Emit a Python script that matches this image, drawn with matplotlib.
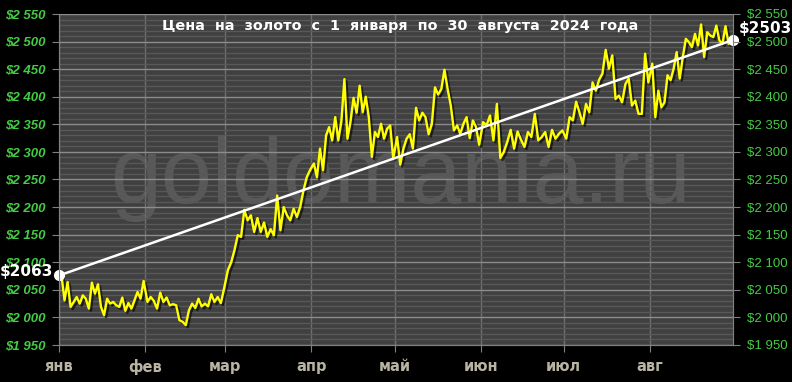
import calendar
import numpy as np
import matplotlib
matplotlib.use('Agg')
import matplotlib.pyplot as plt
import matplotlib.patheffects as pe
from matplotlib.ticker import MultipleLocator, FuncFormatter, FixedLocator

# цены золота по месяцам
months = ['янв', 'фев', 'мар', 'апр', 'май', 'июн', 'июл', 'авг']
jan = [2076, 2031, 2064, 2019, 2028, 2037, 2025, 2040, 2034, 2016, 2063, 2043, 2060, 2019,
       2004, 2034, 2025, 2028, 2022, 2019, 2036, 2012, 2026, 2016, 2031, 2046, 2034, 2066]
feb = [2028, 2037, 2030, 2016, 2045, 2028, 2036, 2022, 2024, 2022, 1995, 1992, 1986, 2013,
       2025, 2017, 2034, 2020, 2025, 2020, 2042, 2028, 2037, 2026, 2052]
mar = [2086, 2100, 2122, 2149, 2146, 2195, 2176, 2185, 2155, 2180, 2155, 2172, 2146, 2160,
       2149, 2221, 2158, 2200, 2185, 2176, 2197, 2182, 2200, 2230, 2254, 2267]
apr = [2279, 2254, 2306, 2267, 2330, 2345, 2321, 2363, 2321, 2355, 2432, 2324, 2355, 2398,
       2371, 2420, 2372, 2400, 2363, 2291, 2336, 2327, 2351, 2324, 2342, 2348, 2288]
may = [2327, 2277, 2306, 2324, 2332, 2306, 2380, 2357, 2371, 2363, 2332, 2351, 2417, 2404,
       2414, 2449, 2414, 2384, 2339, 2348, 2333, 2351, 2363, 2325, 2357, 2345, 2313]
jun = [2354, 2348, 2366, 2321, 2387, 2289, 2300, 2318, 2340, 2306, 2337, 2322, 2309, 2336,
       2327, 2369, 2321, 2327, 2336, 2309, 2340, 2324, 2333, 2339]
jul = [2324, 2363, 2357, 2391, 2372, 2351, 2387, 2372, 2426, 2411, 2431, 2442, 2485, 2451,
       2475, 2396, 2402, 2390, 2423, 2433, 2384, 2393, 2369, 2369, 2478, 2426]
aug = [2460, 2363, 2411, 2381, 2390, 2439, 2430, 2451, 2481, 2433, 2472, 2505, 2499, 2490,
       2514, 2493, 2531, 2472, 2517, 2511, 2508, 2529, 2502, 2496, 2528, 2496, 2501]
prices = [jan, feb, mar, apr, may, jun, jul, aug]

first_price, last_price = 2063, 2503
trend = [2076, 2503]

# ось X в днях года
month_len = [calendar.monthrange(2024, m)[1] for m in range(1, 9)]
month_start = np.concatenate([[0], np.cumsum(month_len[:-1])])
month_len[-1] = 30  # до 30 августа
x_end = month_start[-1] + 30

xs = np.concatenate([np.linspace(s + 0.9, s + L - 0.5, len(v))
                     for s, L, v in zip(month_start, month_len, prices)])
ys = np.concatenate(prices)

fig = plt.figure(figsize=(7.92, 3.82), dpi=100, facecolor='black')
ax = fig.add_axes([59 / 792, 37 / 382, 674 / 792, 331 / 382])
ax.set_facecolor('#404040')
ax.set_xlim(0, x_end)
ax.set_ylim(1950, 2550)

green = '#44cc44'
fmt = FuncFormatter(lambda v, _: '$' + f'{int(v):,}'.replace(',', ' '))

ax.yaxis.set_major_locator(MultipleLocator(50))
ax.yaxis.set_minor_locator(MultipleLocator(10))
ax.yaxis.set_major_formatter(fmt)
ax.xaxis.set_major_locator(FixedLocator(month_start))
ax.set_xticklabels(months)

ax.grid(axis='y', which='major', color='#8c8c8c', lw=1)
ax.grid(axis='y', which='minor', color='#585858', lw=1)
ax.grid(axis='x', which='major', color='#6e6e6e', lw=1)
ax.set_axisbelow(True)

ax.tick_params(axis='y', which='major', colors='#808080', labelcolor=green, length=5, pad=5)
ax.tick_params(axis='y', which='minor', length=0)
ax.tick_params(axis='x', colors='#808080', labelcolor='#b9b3a2', length=5, pad=5)
for t in ax.get_yticklabels():
    t.set_fontstyle('italic')
    t.set_fontweight('bold')
    t.set_fontsize(9.5)
    t.set_family('Liberation Sans')
for t in ax.get_xticklabels():
    t.set_fontweight('bold')
    t.set_fontsize(10.5)

for side in ['left', 'bottom', 'right']:
    ax.spines[side].set_color('#808080')
ax.spines['top'].set_visible(False)

ax2 = ax.twinx()
ax2.set_ylim(ax.get_ylim())
ax2.yaxis.set_major_locator(MultipleLocator(50))
ax2.yaxis.set_major_formatter(fmt)
ax2.tick_params(axis='y', colors='#808080', labelcolor=green, length=5, pad=5)
for t in ax2.get_yticklabels():
    t.set_fontsize(9.5)
    t.set_family('Liberation Sans')
for side in ['left', 'bottom', 'right']:
    ax2.spines[side].set_color('#808080')
ax2.spines['top'].set_visible(False)

# водяной знак
ax.text(0.506, 0.43, 'goldomania.ru', transform=ax.transAxes, ha='center', va='baseline',
        fontsize=66, color='#595959', family='Liberation Sans', zorder=0.2)

ax.text(0.506, 0.965, 'Цена  на  золото  с  1  января  по  30  августа  2024  года',
        transform=ax.transAxes, ha='center', va='center', fontsize=10.4,
        fontweight='bold', color='white', zorder=6)

shadow = [pe.SimpleLineShadow(offset=(1.5, -1.5), shadow_color='black', alpha=0.6), pe.Normal()]
ax.plot(xs, ys, color='#ffff00', lw=1.7, zorder=3, path_effects=shadow)

ax.plot([0, x_end], trend, color='white', lw=1.8, zorder=4, clip_on=False)
ax.plot([0, x_end], trend, 'o', color='white', ms=7, zorder=5, clip_on=False)

ax.annotate(f'${first_price}', (0, trend[0]), xytext=(-4, 3), textcoords='offset points',
            ha='right', va='center', fontsize=11, fontweight='bold', color='white',
            annotation_clip=False, zorder=6)
ax.annotate(f'${last_price}', (x_end, trend[1]), xytext=(4, 8), textcoords='offset points',
            ha='left', va='center', fontsize=11, fontweight='bold', color='white',
            annotation_clip=False, zorder=6)

fig.savefig('out.png', dpi=100, facecolor='black')
